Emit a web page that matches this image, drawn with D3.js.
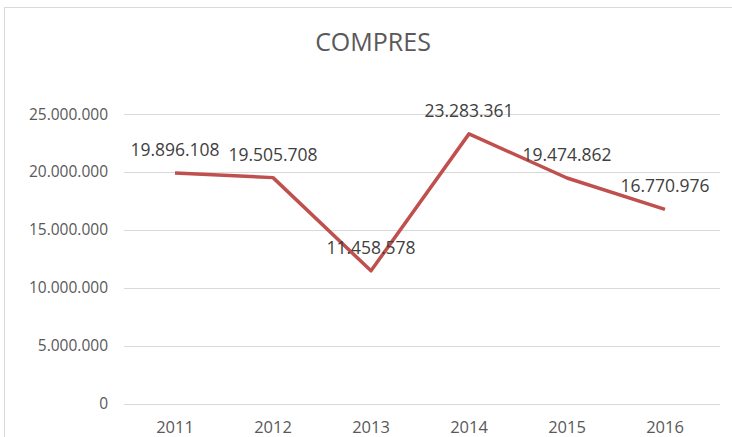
<!DOCTYPE html>
<html lang="en">
<head>
    <meta charset="UTF-8">
    <title>COMPRES</title>
    <script src="https://d3js.org/d3.v7.min.js"></script>
    <style>
        body { margin: 0; background: #fff; }
        text { font-family: "Open Sans", Lato, sans-serif; }
    </style>
</head>
<body>
    <svg id="chart" width="732" height="437"></svg>
<script>
    const years = ["2011", "2012", "2013", "2014", "2015", "2016"];
    const compres = [19896108, 19505708, 11458578, 23283361, 19474862, 16770976];
    const yTicks = [0, 5000000, 10000000, 15000000, 20000000, 25000000];

    const svg = d3.select("#chart");

    // chart frame (extends past the picture on the right and bottom)
    svg.append("rect")
        .attr("x", 4.5).attr("y", 7.5)
        .attr("width", 740).attr("height", 440)
        .attr("fill", "none").attr("stroke", "#d9d9d9");

    const x = d3.scaleBand().domain(years).range([126, 714]);
    const y = d3.scaleLinear().domain([0, 25000000]).range([403.5, 114]);
    const fmt = v => d3.format(",")(v).replace(/,/g, ".");

    // gridlines
    svg.append("g").selectAll("line")
        .data(yTicks)
        .join("line")
        .attr("x1", 124).attr("x2", 720)
        .attr("y1", d => Math.round(y(d)) + 0.5)
        .attr("y2", d => Math.round(y(d)) + 0.5)
        .attr("stroke", "#d9d9d9");

    // y labels
    svg.append("g").selectAll("text")
        .data(yTicks)
        .join("text")
        .attr("x", 108)
        .attr("y", d => y(d) + 5.5)
        .attr("text-anchor", "end")
        .attr("font-size", 15.5)
        .attr("fill", "#595959")
        .text(d => fmt(d));

    // x labels
    svg.append("g").selectAll("text")
        .data(years)
        .join("text")
        .attr("x", d => x(d) + x.bandwidth() / 2)
        .attr("y", 433)
        .attr("text-anchor", "middle")
        .attr("font-size", 16.5)
        .attr("fill", "#595959")
        .text(d => d);

    // title
    svg.append("text")
        .attr("x", 373).attr("y", 51)
        .attr("text-anchor", "middle")
        .attr("font-size", 25)
        .attr("fill", "#595959")
        .text("COMPRES");

    const line = d3.line()
        .x((d, i) => x(years[i]) + x.bandwidth() / 2)
        .y(d => y(d));

    svg.append("path")
        .datum(compres)
        .attr("d", line)
        .attr("fill", "none")
        .attr("stroke", "#c0504d")
        .attr("stroke-width", 3.5)
        .attr("stroke-linejoin", "round");

    // data labels
    svg.append("g").selectAll("text")
        .data(compres)
        .join("text")
        .attr("x", (d, i) => x(years[i]) + x.bandwidth() / 2)
        .attr("y", d => y(d) - 17)
        .attr("text-anchor", "middle")
        .attr("font-size", 17.5)
        .attr("fill", "#404040")
        .text(d => fmt(d));
</script>
</body>
</html>
